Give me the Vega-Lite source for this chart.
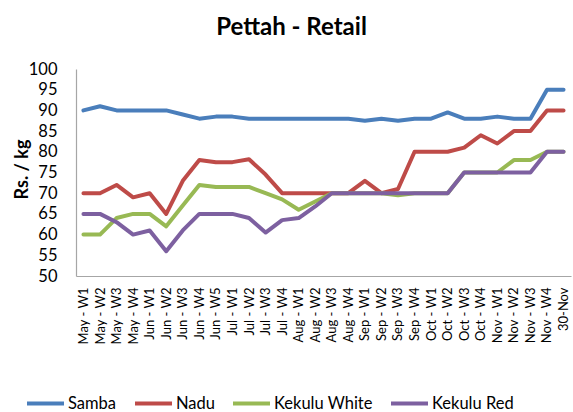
{
  "$schema": "https://vega.github.io/schema/vega-lite/v6.json",
  "autosize": {"type": "none"},
  "width": 495,
  "height": 207,
  "padding": {"left": 76, "top": 69, "right": 2, "bottom": 136},
  "background": "white",
  "config": {
    "font": "Lato",
    "view": {"stroke": null}
  },
  "title": {
    "text": "Pettah - Retail",
    "font": "Lato",
    "fontSize": 24,
    "fontWeight": "bold",
    "color": "#000000",
    "anchor": "middle",
    "frame": "group",
    "dx": -32,
    "offset": 21
  },
  "data": {
    "values": [
      {"week": "May - W1", "variety": "Samba", "price": 90},
      {"week": "May - W2", "variety": "Samba", "price": 91},
      {"week": "May - W3", "variety": "Samba", "price": 90},
      {"week": "May - W4", "variety": "Samba", "price": 90},
      {"week": "Jun - W1", "variety": "Samba", "price": 90},
      {"week": "Jun - W2", "variety": "Samba", "price": 90},
      {"week": "Jun - W3", "variety": "Samba", "price": 89},
      {"week": "Jun - W4", "variety": "Samba", "price": 88},
      {"week": "Jun - W5", "variety": "Samba", "price": 88.5},
      {"week": "Jul - W1", "variety": "Samba", "price": 88.5},
      {"week": "Jul - W2", "variety": "Samba", "price": 88},
      {"week": "Jul - W3", "variety": "Samba", "price": 88},
      {"week": "Jul - W4", "variety": "Samba", "price": 88},
      {"week": "Aug - W1", "variety": "Samba", "price": 88},
      {"week": "Aug - W2", "variety": "Samba", "price": 88},
      {"week": "Aug - W3", "variety": "Samba", "price": 88},
      {"week": "Aug - W4", "variety": "Samba", "price": 88},
      {"week": "Sep - W1", "variety": "Samba", "price": 87.5},
      {"week": "Sep - W2", "variety": "Samba", "price": 88},
      {"week": "Sep - W3", "variety": "Samba", "price": 87.5},
      {"week": "Sep - W4", "variety": "Samba", "price": 88},
      {"week": "Oct - W1", "variety": "Samba", "price": 88},
      {"week": "Oct - W2", "variety": "Samba", "price": 89.5},
      {"week": "Oct - W3", "variety": "Samba", "price": 88},
      {"week": "Oct - W4", "variety": "Samba", "price": 88},
      {"week": "Nov - W1", "variety": "Samba", "price": 88.5},
      {"week": "Nov - W2", "variety": "Samba", "price": 88},
      {"week": "Nov - W3", "variety": "Samba", "price": 88},
      {"week": "Nov - W4", "variety": "Samba", "price": 95},
      {"week": "30-Nov", "variety": "Samba", "price": 95},
      {"week": "May - W1", "variety": "Nadu", "price": 70},
      {"week": "May - W2", "variety": "Nadu", "price": 70},
      {"week": "May - W3", "variety": "Nadu", "price": 72},
      {"week": "May - W4", "variety": "Nadu", "price": 69},
      {"week": "Jun - W1", "variety": "Nadu", "price": 70},
      {"week": "Jun - W2", "variety": "Nadu", "price": 65},
      {"week": "Jun - W3", "variety": "Nadu", "price": 73},
      {"week": "Jun - W4", "variety": "Nadu", "price": 78},
      {"week": "Jun - W5", "variety": "Nadu", "price": 77.5},
      {"week": "Jul - W1", "variety": "Nadu", "price": 77.5},
      {"week": "Jul - W2", "variety": "Nadu", "price": 78.2},
      {"week": "Jul - W3", "variety": "Nadu", "price": 74.5},
      {"week": "Jul - W4", "variety": "Nadu", "price": 70},
      {"week": "Aug - W1", "variety": "Nadu", "price": 70},
      {"week": "Aug - W2", "variety": "Nadu", "price": 70},
      {"week": "Aug - W3", "variety": "Nadu", "price": 70},
      {"week": "Aug - W4", "variety": "Nadu", "price": 70},
      {"week": "Sep - W1", "variety": "Nadu", "price": 73},
      {"week": "Sep - W2", "variety": "Nadu", "price": 70},
      {"week": "Sep - W3", "variety": "Nadu", "price": 71},
      {"week": "Sep - W4", "variety": "Nadu", "price": 80},
      {"week": "Oct - W1", "variety": "Nadu", "price": 80},
      {"week": "Oct - W2", "variety": "Nadu", "price": 80},
      {"week": "Oct - W3", "variety": "Nadu", "price": 81},
      {"week": "Oct - W4", "variety": "Nadu", "price": 84},
      {"week": "Nov - W1", "variety": "Nadu", "price": 82},
      {"week": "Nov - W2", "variety": "Nadu", "price": 85},
      {"week": "Nov - W3", "variety": "Nadu", "price": 85},
      {"week": "Nov - W4", "variety": "Nadu", "price": 90},
      {"week": "30-Nov", "variety": "Nadu", "price": 90},
      {"week": "May - W1", "variety": "Kekulu White", "price": 60},
      {"week": "May - W2", "variety": "Kekulu White", "price": 60},
      {"week": "May - W3", "variety": "Kekulu White", "price": 64},
      {"week": "May - W4", "variety": "Kekulu White", "price": 65},
      {"week": "Jun - W1", "variety": "Kekulu White", "price": 65},
      {"week": "Jun - W2", "variety": "Kekulu White", "price": 62},
      {"week": "Jun - W3", "variety": "Kekulu White", "price": 67},
      {"week": "Jun - W4", "variety": "Kekulu White", "price": 72},
      {"week": "Jun - W5", "variety": "Kekulu White", "price": 71.5},
      {"week": "Jul - W1", "variety": "Kekulu White", "price": 71.5},
      {"week": "Jul - W2", "variety": "Kekulu White", "price": 71.5},
      {"week": "Jul - W3", "variety": "Kekulu White", "price": 70},
      {"week": "Jul - W4", "variety": "Kekulu White", "price": 68.5},
      {"week": "Aug - W1", "variety": "Kekulu White", "price": 66},
      {"week": "Aug - W2", "variety": "Kekulu White", "price": 68},
      {"week": "Aug - W3", "variety": "Kekulu White", "price": 70},
      {"week": "Aug - W4", "variety": "Kekulu White", "price": 70},
      {"week": "Sep - W1", "variety": "Kekulu White", "price": 70},
      {"week": "Sep - W2", "variety": "Kekulu White", "price": 70},
      {"week": "Sep - W3", "variety": "Kekulu White", "price": 69.5},
      {"week": "Sep - W4", "variety": "Kekulu White", "price": 70},
      {"week": "Oct - W1", "variety": "Kekulu White", "price": 70},
      {"week": "Oct - W2", "variety": "Kekulu White", "price": 70},
      {"week": "Oct - W3", "variety": "Kekulu White", "price": 75},
      {"week": "Oct - W4", "variety": "Kekulu White", "price": 75},
      {"week": "Nov - W1", "variety": "Kekulu White", "price": 75},
      {"week": "Nov - W2", "variety": "Kekulu White", "price": 78},
      {"week": "Nov - W3", "variety": "Kekulu White", "price": 78},
      {"week": "Nov - W4", "variety": "Kekulu White", "price": 80},
      {"week": "30-Nov", "variety": "Kekulu White", "price": 80},
      {"week": "May - W1", "variety": "Kekulu Red", "price": 65},
      {"week": "May - W2", "variety": "Kekulu Red", "price": 65},
      {"week": "May - W3", "variety": "Kekulu Red", "price": 63},
      {"week": "May - W4", "variety": "Kekulu Red", "price": 60},
      {"week": "Jun - W1", "variety": "Kekulu Red", "price": 61},
      {"week": "Jun - W2", "variety": "Kekulu Red", "price": 56},
      {"week": "Jun - W3", "variety": "Kekulu Red", "price": 61},
      {"week": "Jun - W4", "variety": "Kekulu Red", "price": 65},
      {"week": "Jun - W5", "variety": "Kekulu Red", "price": 65},
      {"week": "Jul - W1", "variety": "Kekulu Red", "price": 65},
      {"week": "Jul - W2", "variety": "Kekulu Red", "price": 64},
      {"week": "Jul - W3", "variety": "Kekulu Red", "price": 60.5},
      {"week": "Jul - W4", "variety": "Kekulu Red", "price": 63.5},
      {"week": "Aug - W1", "variety": "Kekulu Red", "price": 64},
      {"week": "Aug - W2", "variety": "Kekulu Red", "price": 66.8},
      {"week": "Aug - W3", "variety": "Kekulu Red", "price": 70},
      {"week": "Aug - W4", "variety": "Kekulu Red", "price": 70},
      {"week": "Sep - W1", "variety": "Kekulu Red", "price": 70},
      {"week": "Sep - W2", "variety": "Kekulu Red", "price": 70},
      {"week": "Sep - W3", "variety": "Kekulu Red", "price": 70},
      {"week": "Sep - W4", "variety": "Kekulu Red", "price": 70},
      {"week": "Oct - W1", "variety": "Kekulu Red", "price": 70},
      {"week": "Oct - W2", "variety": "Kekulu Red", "price": 70},
      {"week": "Oct - W3", "variety": "Kekulu Red", "price": 75},
      {"week": "Oct - W4", "variety": "Kekulu Red", "price": 75},
      {"week": "Nov - W1", "variety": "Kekulu Red", "price": 75},
      {"week": "Nov - W2", "variety": "Kekulu Red", "price": 75},
      {"week": "Nov - W3", "variety": "Kekulu Red", "price": 75},
      {"week": "Nov - W4", "variety": "Kekulu Red", "price": 80},
      {"week": "30-Nov", "variety": "Kekulu Red", "price": 80}
    ]
  },
  "mark": {"type": "line", "strokeWidth": 4, "strokeJoin": "round", "strokeCap": "round"},
  "encoding": {
    "x": {
      "field": "week",
      "type": "ordinal",
      "sort": null,
      "scale": {"type": "point", "padding": 0.45},
      "axis": {
        "title": null,
        "labelAngle": -90,
        "labelFont": "Lato",
        "labelFontSize": 13,
        "labelColor": "#000000",
        "labelPadding": 11,
        "ticks": false,
        "domainColor": "#A6A6A6",
        "domainWidth": 1.2,
        "grid": false
      }
    },
    "y": {
      "field": "price",
      "type": "quantitative",
      "scale": {"domain": [50, 100], "nice": false, "zero": false},
      "axis": {
        "title": "Rs. / kg",
        "titleFont": "Lato",
        "titleFontSize": 18,
        "titleFontWeight": "bold",
        "titleColor": "#000000",
        "titleAngle": -90,
        "titleX": -45,
        "titleY": 100,
        "titleAlign": "center",
        "titleBaseline": "bottom",
        "values": [50, 55, 60, 65, 70, 75, 80, 85, 90, 95, 100],
        "labelFont": "Lato",
        "labelFontSize": 16.5,
        "labelColor": "#000000",
        "labelPadding": 19,
        "ticks": false,
        "grid": false,
        "domainColor": "#A6A6A6",
        "domainWidth": 1.2
      }
    },
    "color": {
      "field": "variety",
      "type": "nominal",
      "scale": {
        "domain": ["Samba", "Nadu", "Kekulu White", "Kekulu Red"],
        "range": ["#4A7EBB", "#BE4B48", "#98B954", "#7D60A0"]
      },
      "legend": {
        "title": null,
        "orient": "none",
        "direction": "horizontal",
        "legendX": -51,
        "legendY": 314,
        "symbolType": "stroke",
        "symbolSize": 1369,
        "symbolStrokeWidth": 4,
        "labelFont": "Lato",
        "labelFontSize": 16.5,
        "labelColor": "#000000",
        "labelOffset": 2,
        "columnPadding": 10
      }
    }
  }
}
